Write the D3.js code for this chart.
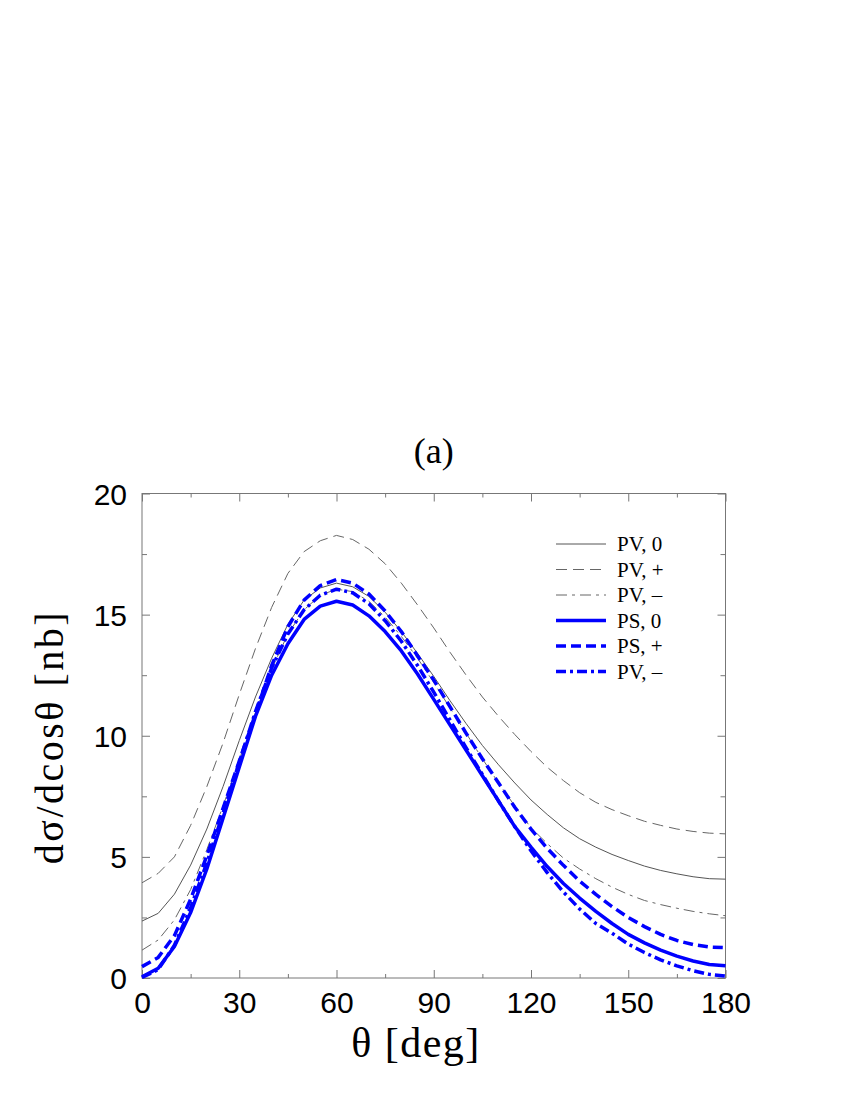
<!DOCTYPE html>
<html>
<head>
<meta charset="utf-8">
<script src="https://cdn.jsdelivr.net/npm/d3@7"></script>
<style>
  html, body { margin: 0; padding: 0; background: #fff; }
  svg { display: block; }
</style>
</head>
<body>
<script>
// ---- data ----
const theta = [0,5,10,15,20,25,30,35,40,45,50,55,60,65,70,75,80,85,90,95,100,105,110,115,120,125,130,135,140,145,150,155,160,165,170,175,180];

const pv0 = [2.35,2.67,3.46,4.66,6.15,7.9,9.8,11.6,13.2,14.6,15.6,16.1,16.3,16.15,15.75,15.1,14.3,13.4,12.45,11.45,10.5,9.6,8.8,8.05,7.35,6.75,6.2,5.75,5.4,5.1,4.85,4.62,4.44,4.3,4.18,4.1,4.08];
const pvPlus = [3.93,4.32,5.0,6.3,7.9,9.7,11.7,13.6,15.3,16.7,17.6,18.05,18.27,18.1,17.7,17.1,16.3,15.4,14.45,13.45,12.5,11.6,10.8,10.05,9.35,8.7,8.15,7.65,7.25,6.95,6.7,6.47,6.3,6.15,6.05,5.98,5.95];
const pvMinus = [1.15,1.57,2.4,3.65,5.3,7.1,9.0,10.95,12.75,14.2,15.2,15.8,16.05,15.95,15.55,14.9,14.1,13.2,12.2,11.15,10.1,9.05,8.05,7.1,6.2,5.55,4.95,4.5,4.1,3.75,3.45,3.2,3.03,2.88,2.75,2.65,2.57];
const ps0 = [0.05,0.4,1.3,2.7,4.5,6.6,8.7,10.8,12.5,13.8,14.8,15.35,15.55,15.4,14.95,14.3,13.5,12.55,11.5,10.45,9.4,8.35,7.3,6.25,5.4,4.6,3.9,3.3,2.75,2.25,1.8,1.45,1.15,0.9,0.7,0.56,0.51];
const psPlus = [0.47,0.85,1.75,3.25,5.05,7.0,8.95,10.9,12.9,14.5,15.6,16.2,16.45,16.3,15.85,15.15,14.3,13.3,12.3,11.2,10.1,9.05,8.05,7.05,6.15,5.35,4.65,4.0,3.45,2.95,2.5,2.12,1.8,1.55,1.38,1.28,1.25];
const psMinus = [0.02,0.35,1.35,2.9,4.75,6.8,8.9,11.0,12.8,14.2,15.2,15.8,16.05,15.9,15.45,14.75,13.9,12.9,11.8,10.65,9.5,8.4,7.3,6.25,5.25,4.35,3.55,2.85,2.25,1.85,1.4,1.05,0.75,0.5,0.3,0.15,0.08];

const seriesNames = ["PV, 0","PV, +","PV, \u2013","PS, 0","PS, +","PV, \u2013"];
const seriesValues = [pv0, pvPlus, pvMinus, ps0, psPlus, psMinus];

const xTicks = [0,30,60,90,120,150,180];
const xMinorTicks = [15,45,75,105,135,165];
const yTicks = [0,5,10,15,20];
const yMinorTicks = [2.5,7.5,12.5,17.5];

const titleText = "(a)";
const xTitle = "\u03b8 [deg]";
const yTitle = "d\u03c3/dcos\u03b8 [nb]";

// ---- styles (kept separate from data) ----
const styles = [
  {color:"#555", width:1,   dash:null},
  {color:"#666", width:1,   dash:"11,6"},
  {color:"#666", width:1,   dash:"11,5,3,5"},
  {color:"#0000ff", width:3.5, dash:null},
  {color:"#0000ff", width:3.5, dash:"10,5"},
  {color:"#0000ff", width:3.5, dash:"10,4,3,4"}
];

// ---- layout ----
const W = 850, H = 1100;
const pLeft = 142, pRight = 725.5, pTop = 493.5, pBottom = 978;
const serif = "'Liberation Serif', 'Times New Roman', Times, serif";
const sans = "'Liberation Sans', Arial, Helvetica, sans-serif";

const svg = d3.select("body").append("svg")
  .attr("width", W).attr("height", H);

const x = d3.scaleLinear().domain([0,180]).range([pLeft,pRight]);
const y = d3.scaleLinear().domain([0,20]).range([pBottom,pTop]);

const axisColor = "#777";

// frame
svg.append("rect")
  .attr("x", pLeft).attr("y", pTop)
  .attr("width", pRight-pLeft).attr("height", pBottom-pTop)
  .attr("fill","none").attr("stroke",axisColor).attr("stroke-width",1);

function styleAxis(g){
  g.select(".domain").remove();
  g.selectAll(".tick line").attr("stroke",axisColor).attr("stroke-width",1);
}
// bottom
svg.append("g").attr("transform",`translate(0,${pBottom})`)
  .call(d3.axisBottom(x).tickValues(xTicks).tickSize(-8).tickFormat(d3.format("d")))
  .call(styleAxis)
  .call(g => g.selectAll(".tick text")
     .attr("y", 35).attr("dy", 0)
     .attr("font-family", sans)
     .attr("font-size", 30).attr("fill","#000"));
svg.append("g").attr("transform",`translate(0,${pBottom})`)
  .call(d3.axisBottom(x).tickValues(xMinorTicks).tickSize(-4).tickFormat(""))
  .call(styleAxis);
// top
svg.append("g").attr("transform",`translate(0,${pTop})`)
  .call(d3.axisTop(x).tickValues(xTicks).tickSize(-8).tickFormat(""))
  .call(styleAxis);
svg.append("g").attr("transform",`translate(0,${pTop})`)
  .call(d3.axisTop(x).tickValues(xMinorTicks).tickSize(-4).tickFormat(""))
  .call(styleAxis);
// left
svg.append("g").attr("transform",`translate(${pLeft},0)`)
  .call(d3.axisLeft(y).tickValues(yTicks).tickSize(-8).tickFormat(d3.format("d")))
  .call(styleAxis)
  .call(g => g.selectAll(".tick text")
     .attr("x", -15).attr("dy", "0.36em")
     .attr("font-family", sans)
     .attr("font-size", 30).attr("fill","#000"));
svg.append("g").attr("transform",`translate(${pLeft},0)`)
  .call(d3.axisLeft(y).tickValues(yMinorTicks).tickSize(-5).tickFormat(""))
  .call(styleAxis);
// right
svg.append("g").attr("transform",`translate(${pRight},0)`)
  .call(d3.axisRight(y).tickValues(yTicks).tickSize(-8).tickFormat(""))
  .call(styleAxis);
svg.append("g").attr("transform",`translate(${pRight},0)`)
  .call(d3.axisRight(y).tickValues(yMinorTicks).tickSize(-5).tickFormat(""))
  .call(styleAxis);

// lines
const line = d3.line()
  .x((d,i) => x(theta[i]))
  .y(d => y(d));

seriesValues.forEach((vals, i) => {
  const s = styles[i];
  svg.append("path")
    .datum(vals)
    .attr("d", line)
    .attr("fill","none")
    .attr("stroke", s.color)
    .attr("stroke-width", s.width)
    .attr("stroke-linejoin","round")
    .attr("stroke-dasharray", s.dash);
});

// legend
const legX1 = 556, legX2 = 606, legTextX = 617, legY0 = 544, legDy = 25.5;
seriesNames.forEach((name, i) => {
  const s = styles[i];
  const yy = legY0 + i*legDy;
  svg.append("line")
    .attr("x1", legX1).attr("x2", legX2)
    .attr("y1", yy).attr("y2", yy)
    .attr("stroke", s.color).attr("stroke-width", s.width)
    .attr("stroke-dasharray", s.dash);
  svg.append("text")
    .attr("x", legTextX).attr("y", yy + 7)
    .attr("font-family", serif)
    .attr("font-size", 21).attr("fill","#000")
    .text(name);
});

// title
svg.append("text")
  .attr("x", (pLeft+pRight)/2).attr("y", 463)
  .attr("text-anchor","middle")
  .attr("font-family", serif)
  .attr("font-size", 36).attr("fill","#000")
  .text(titleText);

// axis titles
svg.append("text")
  .attr("x", 416).attr("y", 1057)
  .attr("text-anchor","middle")
  .attr("font-family", serif)
  .attr("font-size", 42).attr("letter-spacing", 1.5).attr("fill","#000")
  .text(xTitle);

svg.append("text")
  .attr("transform", `translate(63,737) rotate(-90)`)
  .attr("text-anchor","middle")
  .attr("font-family", serif)
  .attr("font-size", 40).attr("letter-spacing", 2.5).attr("fill","#000")
  .text(yTitle);
</script>
</body>
</html>
